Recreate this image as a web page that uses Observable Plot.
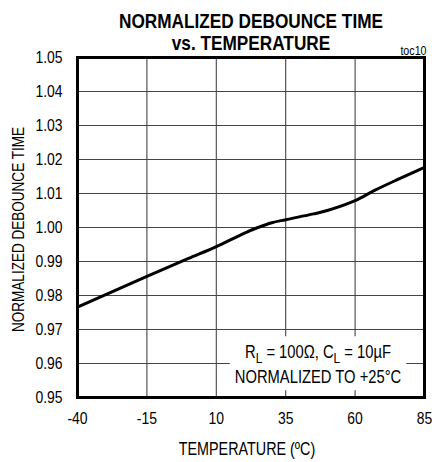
<!DOCTYPE html>
<html><head><meta charset="utf-8">
<script src="https://cdn.jsdelivr.net/npm/d3@7"></script>
<script src="https://cdn.jsdelivr.net/npm/@observablehq/plot@0.6"></script>
<style>
html,body{margin:0;padding:0;background:#fff;}
</style></head><body><div id="chart"></div>
<script>
// Data
const temps = [-40, -15, 0, 10, 20, 25, 30, 35, 45, 50, 60, 67, 75, 85];
const times = [0.9766, 0.9856, 0.9909, 0.9944, 0.9983, 1.000, 1.0014, 1.0023, 1.0040, 1.0050, 1.0079, 1.0109, 1.0140, 1.0177];
const xTicks = [-40, -15, 10, 35, 60, 85];
const yTicks = [0.95, 0.96, 0.97, 0.98, 0.99, 1.00, 1.01, 1.02, 1.03, 1.04, 1.05];
const titleLines = ["NORMALIZED DEBOUNCE TIME", "vs. TEMPERATURE"];
const tocLabel = ["toc10"];
const xLabel = ["TEMPERATURE (ºC)"];
const yLabel = ["NORMALIZED DEBOUNCE TIME"];
const noteLine1 = ["R_L = 100Ω, C_L = 10µF"];
const noteLine2 = ["NORMALIZED TO +25°C"];

const data = temps.map((t, i) => ({t, v: times[i]}));
const FONT = "'Liberation Sans Narrow','Arial Narrow','Liberation Sans',Arial,sans-serif";
const T = {text: d => d, lineAnchor: "middle", textAnchor: "middle"};

const chart = Plot.plot({
  width: 432, height: 462,
  marginTop: 57, marginBottom: 65, marginLeft: 77, marginRight: 8,
  style: {fontFamily: FONT, fontSize: "16px", color: "#000", background: "#fff", overflow: "visible"},
  x: {domain: [-40, 85], label: null},
  y: {domain: [0.95, 1.05], label: null},
  marks: [
    Plot.gridX(xTicks, {stroke: "#444", strokeOpacity: 1, strokeWidth: 1.1}),
    Plot.gridY(yTicks, {stroke: "#444", strokeOpacity: 1, strokeWidth: 1.1}),
    Plot.axisX(xTicks, {tickSize: 0, tickPadding: 14, fontSize: 17, tickFormat: d => String(d), label: null}),
    Plot.axisY(yTicks, {tickSize: 0, tickPadding: 15, fontSize: 17, tickFormat: d3.format(".2f"), label: null}),
    Plot.line(data, {x: "t", y: "v", curve: "catmull-rom", stroke: "#000", strokeWidth: 3}),
    Plot.text(noteLine1, {...T, frameAnchor: "bottom", dx: 67, dy: -45, fontSize: 18, className: "note"}),
    Plot.text(noteLine2, {...T, frameAnchor: "bottom", dx: 67, dy: -20, fontSize: 18, className: "note"}),
    Plot.frame({stroke: "#000", strokeWidth: 3}),
    Plot.text([titleLines[0]], {...T, frameAnchor: "top", dy: -36, fontSize: 21, fontWeight: "bold"}),
    Plot.text([titleLines[1]], {...T, frameAnchor: "top", dy: -14, fontSize: 21, fontWeight: "bold"}),
    Plot.text(tocLabel, {...T, frameAnchor: "top-right", textAnchor: "end", dx: 2, dy: -7, fontSize: 13}),
    Plot.text(xLabel, {...T, frameAnchor: "bottom", dx: -4, dy: 52, fontSize: 17.5}),
    Plot.text(yLabel, {...T, frameAnchor: "left", dx: -59, dy: 2, rotate: -90, fontSize: 16.5})
  ]
});
document.getElementById("chart").append(chart);

// subscripts for the note
const notes = d3.select(chart).selectAll("g.note text");
notes.each(function() {
  const t = d3.select(this);
  const s = t.text();
  if (!s.includes("_")) return;
  t.text(null);
  let shift = 0;
  s.split(/(_\w)/).filter(p => p.length).forEach(p => {
    if (p.startsWith("_")) {
      t.append("tspan").attr("dy", "0.3em").attr("font-size", "0.8em").text(p.slice(1));
      shift = 1;
    } else {
      const sp = t.append("tspan").text(p);
      if (shift) { sp.attr("dy", "-0.24em"); shift = 0; }
    }
  });
});

// narrow the glyphs (Arial Narrow look) without changing glyph height
d3.select(chart).selectAll("text").each(function() {
  const w = this.getComputedTextLength();
  if (w > 0) {
    this.setAttribute("textLength", (w * 0.82).toFixed(1));
    this.setAttribute("lengthAdjust", "spacingAndGlyphs");
  }
});

// white box behind the note
let x0 = Infinity, y0 = Infinity, x1 = -Infinity, y1 = -Infinity;
const s = chart.getBoundingClientRect();
notes.each(function() {
  const r = this.getBoundingClientRect();
  x0 = Math.min(x0, r.left - s.left); y0 = Math.min(y0, r.top - s.top);
  x1 = Math.max(x1, r.right - s.left); y1 = Math.max(y1, r.bottom - s.top);
});
const firstNote = chart.querySelector("g.note");
const rect = document.createElementNS("http://www.w3.org/2000/svg", "rect");
rect.setAttribute("x", x0 - 5); rect.setAttribute("y", y0 - 6);
rect.setAttribute("width", x1 - x0 + 10); rect.setAttribute("height", y1 - y0 + 9);
rect.setAttribute("fill", "#fff");
firstNote.parentNode.insertBefore(rect, firstNote);
</script>
</body></html>
